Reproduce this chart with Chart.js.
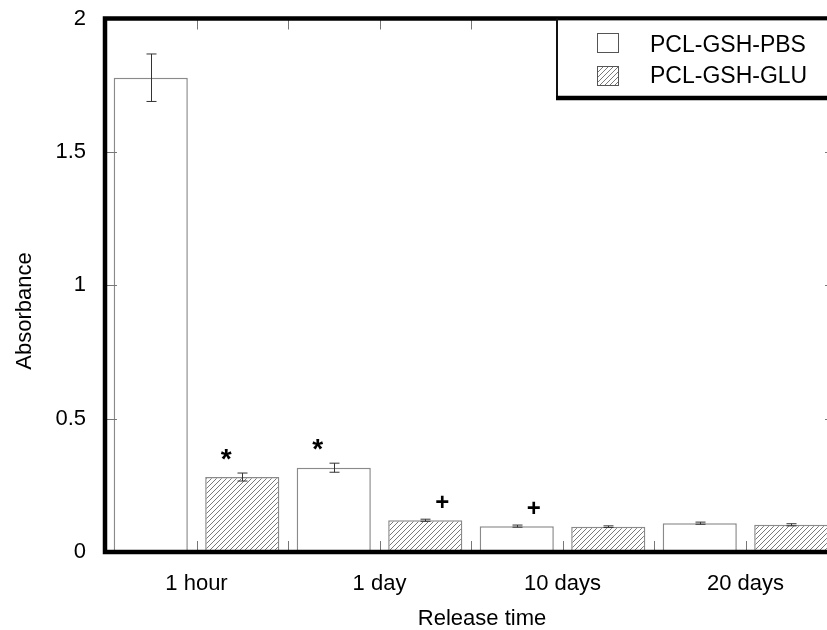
<!DOCTYPE html>
<html><head><meta charset="utf-8">
<script src="https://cdn.jsdelivr.net/npm/chart.js@4"></script>
<style>html,body{margin:0;padding:0;overflow:hidden;background:#fff;width:827px;height:630px}</style>
</head><body>
<canvas id="c" width="860" height="630" style="display:block;width:860px;height:630px"></canvas>
<script>
// ---- data ----
const categories = ['1 hour', '1 day', '10 days', '20 days'];
const seriesNames = ['PCL-GSH-PBS', 'PCL-GSH-GLU'];
const pbsValues = [1.778, 0.316, 0.097, 0.108];
const pbsErrors = [0.089, 0.017, 0.004, 0.004];
const gluValues = [0.281, 0.119, 0.095, 0.102];
const gluErrors = [0.015, 0.004, 0.003, 0.004];
const pbsMarks = ['', '*', '+', ''];
const gluMarks = ['*', '+', '', ''];
const yTickValues = [0, 0.5, 1, 1.5, 2];
const yTitle = 'Absorbance';
const xTitle = 'Release time';

const FONT = "'Liberation Sans', Arial, sans-serif";
const canvas = document.getElementById('c');
const ctx0 = canvas.getContext('2d');

function makeHatch() {
  const s = 5, c = document.createElement('canvas');
  c.width = s; c.height = s;
  const g = c.getContext('2d');
  g.fillStyle = '#fff'; g.fillRect(0, 0, s, s);
  g.strokeStyle = '#6a6a6a'; g.lineWidth = 0.9;
  g.beginPath();
  g.moveTo(0, s); g.lineTo(s, 0);
  g.moveTo(-1, 1); g.lineTo(1, -1);
  g.moveTo(s - 1, s + 1); g.lineTo(s + 1, s - 1);
  g.stroke();
  return ctx0.createPattern(c, 'repeat');
}
const hatch = makeHatch();

const errorsBySet = [pbsErrors, gluErrors];
const marksBySet = [pbsMarks, gluMarks];

const decor = {
  id: 'decor',
  afterDatasetsDraw(chart) {
    const ctx = chart.ctx, a = chart.chartArea;
    const xs = chart.scales.x, ys = chart.scales.y;
    const W = chart.width;
    const legendLeft = 556;
    ctx.save();
    // error bars
    ctx.strokeStyle = '#333'; ctx.lineWidth = 1;
    chart.data.datasets.forEach((ds, i) => {
      const meta = chart.getDatasetMeta(i);
      meta.data.forEach((el, j) => {
        const v = ds.data[j], e = errorsBySet[i][j];
        const yt = ys.getPixelForValue(v + e), yb = ys.getPixelForValue(v - e);
        const x = Math.round(el.x) + 0.5;
        ctx.beginPath();
        ctx.moveTo(x, yt); ctx.lineTo(x, yb);
        ctx.moveTo(x - 5, yt); ctx.lineTo(x + 5, yt);
        ctx.moveTo(x - 5, yb); ctx.lineTo(x + 5, yb);
        ctx.stroke();
      });
    });
    // tick marks
    ctx.strokeStyle = '#777'; ctx.lineWidth = 1;
    const half = (xs.getPixelForValue(1) - xs.getPixelForValue(0)) / 2;
    const xt = [];
    categories.forEach((c, i) => { xt.push(xs.getPixelForValue(i)); xt.push(xs.getPixelForValue(i) + half); });
    ctx.beginPath();
    xt.forEach(x => {
      const px = Math.round(x) + 0.5;
      ctx.moveTo(px, a.bottom); ctx.lineTo(px, a.bottom - 11);
      if (px < legendLeft) { ctx.moveTo(px, a.top); ctx.lineTo(px, a.top + 11); }
    });
    yTickValues.forEach(v => {
      const py = Math.round(ys.getPixelForValue(v)) + 0.5;
      ctx.moveTo(a.left, py); ctx.lineTo(a.left + 12, py);
      ctx.moveTo(a.right, py); ctx.lineTo(a.right - 12, py);
    });
    ctx.stroke();
    // frame
    ctx.strokeStyle = '#000'; ctx.lineWidth = 4.5;
    ctx.strokeRect(a.left, a.top, a.right - a.left, a.bottom - a.top);
    // significance marks
    ctx.fillStyle = '#000';
    ctx.textAlign = 'center'; ctx.textBaseline = 'middle';
    chart.data.datasets.forEach((ds, i) => {
      const meta = chart.getDatasetMeta(i);
      meta.data.forEach((el, j) => {
        const m = marksBySet[i][j];
        if (!m) return;
        const yt = ys.getPixelForValue(ds.data[j] + errorsBySet[i][j]);
        if (m === '*') {
          ctx.font = 'bold 28px ' + FONT;
          ctx.fillText(m, el.x - 16, yt - 13);
        } else {
          ctx.font = 'bold 24px ' + FONT;
          ctx.fillText(m, el.x + 17, yt - 16);
        }
      });
    });
    // axis titles
    ctx.font = '22px ' + FONT;
    ctx.fillText(xTitle, 482, 619);
    ctx.save();
    ctx.translate(25, 311); ctx.rotate(-Math.PI / 2);
    ctx.fillText(yTitle, 0, 0);
    ctx.restore();
    // legend box
    const T = a.top, B = 98;
    ctx.fillStyle = '#fff';
    ctx.fillRect(legendLeft, T + 2, W - legendLeft, B - T - 2);
    ctx.strokeStyle = '#111'; ctx.lineWidth = 2;
    ctx.beginPath(); ctx.moveTo(legendLeft + 1, T); ctx.lineTo(legendLeft + 1, B); ctx.stroke();
    ctx.strokeStyle = '#000'; ctx.lineWidth = 4.5;
    ctx.beginPath(); ctx.moveTo(legendLeft, B); ctx.lineTo(W, B); ctx.stroke();
    ctx.font = '23px ' + FONT;
    ctx.textAlign = 'left'; ctx.textBaseline = 'alphabetic';
    chart.data.datasets.forEach((ds, i) => {
      const y = 33 + i * 33;
      ctx.fillStyle = ds.backgroundColor;
      ctx.fillRect(597, y, 21, 19);
      ctx.strokeStyle = '#555'; ctx.lineWidth = 1;
      ctx.strokeRect(597.5, y + 0.5, 21, 19);
      ctx.fillStyle = '#000';
      ctx.fillText(ds.label, 650, 52 + i * 31);
    });
    ctx.restore();
  }
};

new Chart(canvas, {
  type: 'bar',
  data: {
    labels: categories,
    datasets: [
      { label: seriesNames[0], data: pbsValues, backgroundColor: '#ffffff', borderColor: '#8a8a8a', borderWidth: 1.5,
        barPercentage: 0.81, categoryPercentage: 1.0 },
      { label: seriesNames[1], data: gluValues, backgroundColor: hatch, borderColor: '#8a8a8a', borderWidth: 1.5,
        barPercentage: 0.81, categoryPercentage: 1.0 }
    ]
  },
  options: {
    responsive: false,
    animation: false,
    devicePixelRatio: 1,
    layout: { padding: { top: 18.5, right: 23, left: 0, bottom: 0 } },
    plugins: { legend: { display: false }, tooltip: { enabled: false } },
    scales: {
      x: {
        grid: { display: false, drawTicks: false },
        border: { display: false },
        ticks: { color: '#000', font: { family: FONT, size: 22 }, padding: 19, maxRotation: 0 },
        afterFit: s => { s.height = 78; s.paddingLeft = 0; s.paddingRight = 0; }
      },
      y: {
        min: 0, max: 2,
        grid: { display: false, drawTicks: false },
        border: { display: false },
        afterBuildTicks: s => { s.ticks = yTickValues.map(v => ({ value: v })); },
        ticks: { color: '#000', font: { family: FONT, size: 22 }, padding: 19, callback: v => String(v) },
        afterFit: s => { s.width = 105; s.paddingTop = 0; s.paddingBottom = 0; }
      }
    }
  },
  plugins: [decor]
});
</script>
</body></html>
